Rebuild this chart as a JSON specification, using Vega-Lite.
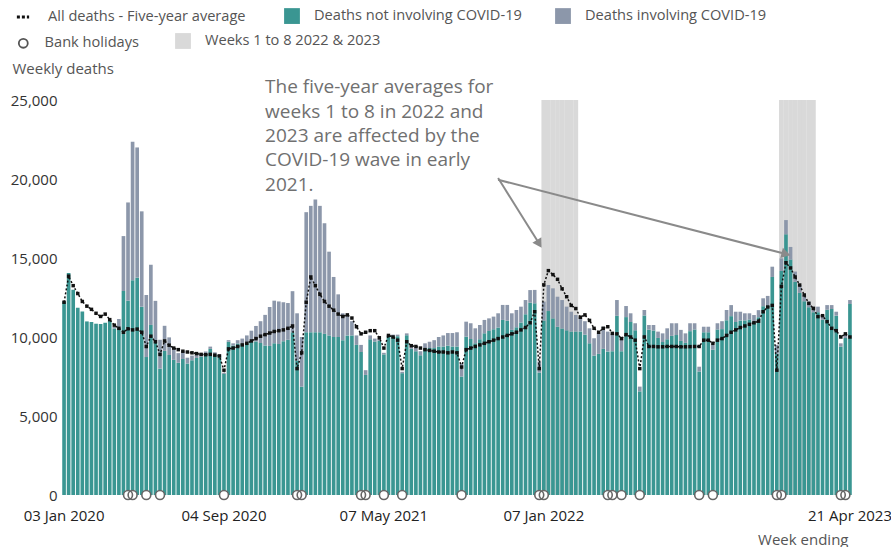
{
  "$schema": "https://vega.github.io/schema/vega-lite/v6.json",
  "width": 790,
  "height": 395,
  "autosize": {"type": "none"},
  "padding": {"left": 62, "top": 100, "right": 39, "bottom": 52},
  "background": "white",
  "config": {
    "view": {"stroke": null},
    "font": "Open Sans",
    "legend": {"labelFont": "Open Sans", "labelFontSize": 14.6, "labelColor": "#555555", "title": null, "labelLimit": 0}
  },
  "datasets": {
    "weekly": [
      {"week":"2020-01-03","noncovid":12254,"covid":0,"avg":12200,"bh":0},
      {"week":"2020-01-10","noncovid":14058,"covid":0,"avg":13850,"bh":0},
      {"week":"2020-01-17","noncovid":12990,"covid":0,"avg":13250,"bh":0},
      {"week":"2020-01-24","noncovid":11856,"covid":0,"avg":12750,"bh":0},
      {"week":"2020-01-31","noncovid":11612,"covid":0,"avg":12250,"bh":0},
      {"week":"2020-02-07","noncovid":10986,"covid":0,"avg":11950,"bh":0},
      {"week":"2020-02-14","noncovid":10944,"covid":0,"avg":11750,"bh":0},
      {"week":"2020-02-21","noncovid":10841,"covid":0,"avg":11500,"bh":0},
      {"week":"2020-02-28","noncovid":10816,"covid":0,"avg":11300,"bh":0},
      {"week":"2020-03-06","noncovid":10895,"covid":0,"avg":11450,"bh":0},
      {"week":"2020-03-13","noncovid":11014,"covid":5,"avg":11100,"bh":0},
      {"week":"2020-03-20","noncovid":10542,"covid":103,"avg":10750,"bh":0},
      {"week":"2020-03-27","noncovid":10602,"covid":539,"avg":10550,"bh":0},
      {"week":"2020-04-03","noncovid":12912,"covid":3475,"avg":10300,"bh":0},
      {"week":"2020-04-10","noncovid":12303,"covid":6213,"avg":10520,"bh":1},
      {"week":"2020-04-17","noncovid":13593,"covid":8758,"avg":10450,"bh":1},
      {"week":"2020-04-24","noncovid":13760,"covid":8237,"avg":10500,"bh":0},
      {"week":"2020-05-01","noncovid":11918,"covid":6035,"avg":10300,"bh":0},
      {"week":"2020-05-08","noncovid":8727,"covid":3930,"avg":9400,"bh":1},
      {"week":"2020-05-15","noncovid":10763,"covid":3810,"avg":10050,"bh":0},
      {"week":"2020-05-22","noncovid":9699,"covid":2589,"avg":9700,"bh":0},
      {"week":"2020-05-29","noncovid":8002,"covid":1822,"avg":8900,"bh":1},
      {"week":"2020-06-05","noncovid":9121,"covid":1588,"avg":9750,"bh":0},
      {"week":"2020-06-12","noncovid":8862,"covid":1114,"avg":9480,"bh":0},
      {"week":"2020-06-19","noncovid":8556,"covid":783,"avg":9300,"bh":0},
      {"week":"2020-06-26","noncovid":8373,"covid":606,"avg":9200,"bh":0},
      {"week":"2020-07-03","noncovid":8608,"covid":532,"avg":9100,"bh":0},
      {"week":"2020-07-10","noncovid":8324,"covid":366,"avg":9050,"bh":0},
      {"week":"2020-07-17","noncovid":8528,"covid":295,"avg":9000,"bh":0},
      {"week":"2020-07-24","noncovid":8674,"covid":217,"avg":8950,"bh":0},
      {"week":"2020-07-31","noncovid":8753,"covid":193,"avg":8900,"bh":0},
      {"week":"2020-08-07","noncovid":8930,"covid":152,"avg":8880,"bh":0},
      {"week":"2020-08-14","noncovid":9253,"covid":139,"avg":8900,"bh":0},
      {"week":"2020-08-21","noncovid":8894,"covid":138,"avg":8850,"bh":0},
      {"week":"2020-08-28","noncovid":8809,"covid":101,"avg":8800,"bh":0},
      {"week":"2020-09-04","noncovid":7661,"covid":78,"avg":7900,"bh":1},
      {"week":"2020-09-11","noncovid":9701,"covid":99,"avg":9250,"bh":0},
      {"week":"2020-09-18","noncovid":9461,"covid":139,"avg":9300,"bh":0},
      {"week":"2020-09-25","noncovid":9585,"covid":215,"avg":9400,"bh":0},
      {"week":"2020-10-02","noncovid":9579,"covid":321,"avg":9500,"bh":0},
      {"week":"2020-10-09","noncovid":9662,"covid":438,"avg":9600,"bh":0},
      {"week":"2020-10-16","noncovid":9730,"covid":670,"avg":9750,"bh":0},
      {"week":"2020-10-23","noncovid":9722,"covid":978,"avg":9900,"bh":0},
      {"week":"2020-10-30","noncovid":9621,"covid":1379,"avg":10050,"bh":0},
      {"week":"2020-11-06","noncovid":9463,"covid":1937,"avg":10150,"bh":0},
      {"week":"2020-11-13","noncovid":9434,"covid":2466,"avg":10250,"bh":0},
      {"week":"2020-11-20","noncovid":9603,"covid":2697,"avg":10350,"bh":0},
      {"week":"2020-11-27","noncovid":9553,"covid":2697,"avg":10400,"bh":0},
      {"week":"2020-12-04","noncovid":9738,"covid":2462,"avg":10450,"bh":0},
      {"week":"2020-12-11","noncovid":9824,"covid":2326,"avg":10550,"bh":0},
      {"week":"2020-12-18","noncovid":10302,"covid":2598,"avg":10700,"bh":0},
      {"week":"2020-12-25","noncovid":8514,"covid":2986,"avg":8000,"bh":1},
      {"week":"2021-01-01","noncovid":6856,"covid":3144,"avg":9000,"bh":1},
      {"week":"2021-01-08","noncovid":10300,"covid":7600,"avg":12200,"bh":0},
      {"week":"2021-01-15","noncovid":10300,"covid":8000,"avg":13800,"bh":0},
      {"week":"2021-01-22","noncovid":10300,"covid":8400,"avg":13250,"bh":0},
      {"week":"2021-01-29","noncovid":10300,"covid":8000,"avg":12700,"bh":0},
      {"week":"2021-02-05","noncovid":10200,"covid":7000,"avg":12250,"bh":0},
      {"week":"2021-02-12","noncovid":10100,"covid":5300,"avg":11950,"bh":0},
      {"week":"2021-02-19","noncovid":10000,"covid":3800,"avg":11700,"bh":0},
      {"week":"2021-02-26","noncovid":10000,"covid":2700,"avg":11450,"bh":0},
      {"week":"2021-03-05","noncovid":9800,"covid":1700,"avg":11300,"bh":0},
      {"week":"2021-03-12","noncovid":10100,"covid":1300,"avg":11400,"bh":0},
      {"week":"2021-03-19","noncovid":10100,"covid":900,"avg":11200,"bh":0},
      {"week":"2021-03-26","noncovid":9500,"covid":600,"avg":10650,"bh":0},
      {"week":"2021-04-02","noncovid":9050,"covid":450,"avg":10200,"bh":1},
      {"week":"2021-04-09","noncovid":7600,"covid":300,"avg":10300,"bh":1},
      {"week":"2021-04-16","noncovid":9850,"covid":250,"avg":10400,"bh":0},
      {"week":"2021-04-23","noncovid":9710,"covid":190,"avg":10400,"bh":0},
      {"week":"2021-04-30","noncovid":9760,"covid":140,"avg":9950,"bh":0},
      {"week":"2021-05-07","noncovid":8900,"covid":100,"avg":9300,"bh":1},
      {"week":"2021-05-14","noncovid":10010,"covid":90,"avg":10100,"bh":0},
      {"week":"2021-05-21","noncovid":10060,"covid":90,"avg":10000,"bh":0},
      {"week":"2021-05-28","noncovid":10050,"covid":100,"avg":9800,"bh":0},
      {"week":"2021-06-04","noncovid":7710,"covid":90,"avg":8000,"bh":1},
      {"week":"2021-06-11","noncovid":10110,"covid":120,"avg":9700,"bh":0},
      {"week":"2021-06-18","noncovid":9250,"covid":150,"avg":9450,"bh":0},
      {"week":"2021-06-25","noncovid":9100,"covid":200,"avg":9400,"bh":0},
      {"week":"2021-07-02","noncovid":8850,"covid":250,"avg":9300,"bh":0},
      {"week":"2021-07-09","noncovid":9300,"covid":300,"avg":9200,"bh":0},
      {"week":"2021-07-16","noncovid":9300,"covid":400,"avg":9150,"bh":0},
      {"week":"2021-07-23","noncovid":9300,"covid":500,"avg":9100,"bh":0},
      {"week":"2021-07-30","noncovid":9400,"covid":600,"avg":9050,"bh":0},
      {"week":"2021-08-06","noncovid":9400,"covid":700,"avg":9050,"bh":0},
      {"week":"2021-08-13","noncovid":9450,"covid":800,"avg":9000,"bh":0},
      {"week":"2021-08-20","noncovid":9400,"covid":850,"avg":9050,"bh":0},
      {"week":"2021-08-27","noncovid":9400,"covid":900,"avg":9000,"bh":0},
      {"week":"2021-09-03","noncovid":7500,"covid":800,"avg":8100,"bh":1},
      {"week":"2021-09-10","noncovid":10020,"covid":950,"avg":9200,"bh":0},
      {"week":"2021-09-17","noncovid":9870,"covid":1000,"avg":9300,"bh":0},
      {"week":"2021-09-24","noncovid":9600,"covid":950,"avg":9400,"bh":0},
      {"week":"2021-10-01","noncovid":9860,"covid":900,"avg":9500,"bh":0},
      {"week":"2021-10-08","noncovid":10230,"covid":850,"avg":9600,"bh":0},
      {"week":"2021-10-15","noncovid":10380,"covid":800,"avg":9700,"bh":0},
      {"week":"2021-10-22","noncovid":10490,"covid":800,"avg":9800,"bh":0},
      {"week":"2021-10-29","noncovid":10600,"covid":900,"avg":9900,"bh":0},
      {"week":"2021-11-05","noncovid":11080,"covid":950,"avg":10000,"bh":0},
      {"week":"2021-11-12","noncovid":11030,"covid":1000,"avg":10100,"bh":0},
      {"week":"2021-11-19","noncovid":10450,"covid":1050,"avg":10200,"bh":0},
      {"week":"2021-11-26","noncovid":10610,"covid":1100,"avg":10300,"bh":0},
      {"week":"2021-12-03","noncovid":10920,"covid":1000,"avg":10450,"bh":0},
      {"week":"2021-12-10","noncovid":11440,"covid":900,"avg":10600,"bh":0},
      {"week":"2021-12-17","noncovid":12170,"covid":800,"avg":10900,"bh":0},
      {"week":"2021-12-24","noncovid":12130,"covid":850,"avg":11600,"bh":0},
      {"week":"2021-12-31","noncovid":7750,"covid":700,"avg":8000,"bh":1},
      {"week":"2022-01-07","noncovid":11040,"covid":1200,"avg":13300,"bh":1},
      {"week":"2022-01-14","noncovid":11640,"covid":1650,"avg":14200,"bh":0},
      {"week":"2022-01-21","noncovid":11180,"covid":1900,"avg":13950,"bh":0},
      {"week":"2022-01-28","noncovid":10650,"covid":1900,"avg":13650,"bh":0},
      {"week":"2022-02-04","noncovid":10540,"covid":1800,"avg":13050,"bh":0},
      {"week":"2022-02-11","noncovid":10420,"covid":1500,"avg":12550,"bh":0},
      {"week":"2022-02-18","noncovid":10350,"covid":1250,"avg":12000,"bh":0},
      {"week":"2022-02-25","noncovid":10350,"covid":1050,"avg":11800,"bh":0},
      {"week":"2022-03-04","noncovid":10350,"covid":900,"avg":11250,"bh":0},
      {"week":"2022-03-11","noncovid":10150,"covid":850,"avg":11400,"bh":0},
      {"week":"2022-03-18","noncovid":9600,"covid":950,"avg":11050,"bh":0},
      {"week":"2022-03-25","noncovid":8820,"covid":1100,"avg":10550,"bh":0},
      {"week":"2022-04-01","noncovid":8930,"covid":1300,"avg":10300,"bh":0},
      {"week":"2022-04-08","noncovid":9250,"covid":1400,"avg":10550,"bh":0},
      {"week":"2022-04-15","noncovid":9090,"covid":1250,"avg":10650,"bh":1},
      {"week":"2022-04-22","noncovid":9100,"covid":1100,"avg":10230,"bh":1},
      {"week":"2022-04-29","noncovid":11340,"covid":1000,"avg":10200,"bh":0},
      {"week":"2022-05-06","noncovid":9100,"covid":800,"avg":9900,"bh":1},
      {"week":"2022-05-13","noncovid":11260,"covid":700,"avg":10150,"bh":0},
      {"week":"2022-05-20","noncovid":10950,"covid":550,"avg":10000,"bh":0},
      {"week":"2022-05-27","noncovid":10420,"covid":450,"avg":9800,"bh":0},
      {"week":"2022-06-03","noncovid":6560,"covid":300,"avg":8000,"bh":1},
      {"week":"2022-06-10","noncovid":11360,"covid":350,"avg":10000,"bh":0},
      {"week":"2022-06-17","noncovid":10460,"covid":300,"avg":9400,"bh":0},
      {"week":"2022-06-24","noncovid":10410,"covid":350,"avg":9400,"bh":0},
      {"week":"2022-07-01","noncovid":9940,"covid":400,"avg":9380,"bh":0},
      {"week":"2022-07-08","noncovid":9680,"covid":550,"avg":9380,"bh":0},
      {"week":"2022-07-15","noncovid":9850,"covid":700,"avg":9400,"bh":0},
      {"week":"2022-07-22","noncovid":10070,"covid":800,"avg":9400,"bh":0},
      {"week":"2022-07-29","noncovid":10120,"covid":750,"avg":9400,"bh":0},
      {"week":"2022-08-05","noncovid":9750,"covid":700,"avg":9380,"bh":0},
      {"week":"2022-08-12","noncovid":9630,"covid":600,"avg":9380,"bh":0},
      {"week":"2022-08-19","noncovid":10370,"covid":500,"avg":9390,"bh":0},
      {"week":"2022-08-26","noncovid":10470,"covid":400,"avg":9400,"bh":0},
      {"week":"2022-09-02","noncovid":7820,"covid":300,"avg":9400,"bh":1},
      {"week":"2022-09-09","noncovid":10300,"covid":350,"avg":9800,"bh":0},
      {"week":"2022-09-16","noncovid":10300,"covid":350,"avg":9800,"bh":0},
      {"week":"2022-09-23","noncovid":9200,"covid":300,"avg":9600,"bh":1},
      {"week":"2022-09-30","noncovid":10470,"covid":400,"avg":9800,"bh":0},
      {"week":"2022-10-07","noncovid":10500,"covid":500,"avg":9900,"bh":0},
      {"week":"2022-10-14","noncovid":11060,"covid":650,"avg":10100,"bh":0},
      {"week":"2022-10-21","noncovid":11320,"covid":700,"avg":10300,"bh":0},
      {"week":"2022-10-28","noncovid":10950,"covid":650,"avg":10450,"bh":0},
      {"week":"2022-11-04","noncovid":11050,"covid":550,"avg":10600,"bh":0},
      {"week":"2022-11-11","noncovid":11050,"covid":450,"avg":10700,"bh":0},
      {"week":"2022-11-18","noncovid":11100,"covid":400,"avg":10800,"bh":0},
      {"week":"2022-11-25","noncovid":10990,"covid":400,"avg":10900,"bh":0},
      {"week":"2022-12-02","noncovid":11250,"covid":450,"avg":11000,"bh":0},
      {"week":"2022-12-09","noncovid":11950,"covid":500,"avg":11600,"bh":0},
      {"week":"2022-12-16","noncovid":12000,"covid":600,"avg":11900,"bh":0},
      {"week":"2022-12-23","noncovid":13800,"covid":650,"avg":12000,"bh":0},
      {"week":"2022-12-30","noncovid":8950,"covid":550,"avg":7900,"bh":1},
      {"week":"2023-01-06","noncovid":14180,"covid":800,"avg":13200,"bh":1},
      {"week":"2023-01-13","noncovid":16500,"covid":900,"avg":14700,"bh":0},
      {"week":"2023-01-20","noncovid":14900,"covid":800,"avg":14370,"bh":0},
      {"week":"2023-01-27","noncovid":13490,"covid":650,"avg":13800,"bh":0},
      {"week":"2023-02-03","noncovid":12790,"covid":500,"avg":13290,"bh":0},
      {"week":"2023-02-10","noncovid":12260,"covid":400,"avg":12660,"bh":0},
      {"week":"2023-02-17","noncovid":11890,"covid":350,"avg":12130,"bh":0},
      {"week":"2023-02-24","noncovid":11570,"covid":350,"avg":11810,"bh":0},
      {"week":"2023-03-03","noncovid":11570,"covid":350,"avg":11290,"bh":0},
      {"week":"2023-03-10","noncovid":11090,"covid":300,"avg":11350,"bh":0},
      {"week":"2023-03-17","noncovid":11720,"covid":300,"avg":10970,"bh":0},
      {"week":"2023-03-24","noncovid":11770,"covid":250,"avg":10550,"bh":0},
      {"week":"2023-03-31","noncovid":11350,"covid":250,"avg":10400,"bh":0},
      {"week":"2023-04-07","noncovid":9400,"covid":200,"avg":10000,"bh":1},
      {"week":"2023-04-14","noncovid":9930,"covid":200,"avg":10200,"bh":1},
      {"week":"2023-04-21","noncovid":12090,"covid":250,"avg":10000,"bh":0}
    ]
  },
  "data": {"name": "weekly"},
  "layer": [
    {
      "transform": [{"filter": {"field": "week", "oneOf": ["2022-01-07","2022-01-14","2022-01-21","2022-01-28","2022-02-04","2022-02-11","2022-02-18","2022-02-25","2023-01-06","2023-01-13","2023-01-20","2023-01-27","2023-02-03","2023-02-10","2023-02-17","2023-02-24"]}}],
      "mark": {"type": "bar", "width": {"band": 1.3}},
      "encoding": {
        "x": {"field": "week", "type": "ordinal", "title": "Week ending"},
        "y": {"datum": 25000, "type": "quantitative"},
        "fill": {"datum": "Weeks 1 to 8 2022 & 2023", "type": "nominal", "scale": {"range": ["#d9d9d9"]},
          "legend": {"orient": "none", "legendX": 113, "legendY": -67, "symbolType": "square", "symbolSize": 250, "symbolStrokeWidth": 0, "labelOffset": 14}}
      }
    },
    {
      "transform": [{"fold": ["noncovid", "covid"], "as": ["type", "deaths"]}],
      "mark": {"type": "bar"},
      "encoding": {
        "x": {"field": "week", "type": "ordinal", "title": "Week ending",
          "scale": {"paddingInner": 0.2, "paddingOuter": 0.05},
          "axis": {
            "values": ["2020-01-03","2020-09-04","2021-05-07","2022-01-07","2023-04-21"],
            "labelExpr": "utcFormat(toDate(datum.value), '%d %b %Y')",
            "labelAngle": 0, "labelAlign": "center", "domain": false, "ticks": false, "grid": false,
            "labelPadding": 20, "labelFontSize": 15, "labelColor": "#222222",
            "labelOverlap": false, "labelBound": false, "labelFlush": false,
            "titleAnchor": "end", "titleAlign": "right", "titleX": 786, "titleY": 37,
            "titleFontSize": 15, "titleFontWeight": "normal", "titleColor": "#555555"
          }
        },
        "y": {"field": "deaths", "type": "quantitative", "stack": "zero", "title": "Weekly deaths",
          "scale": {"domain": [0, 25000], "nice": false},
          "axis": {
            "values": [0, 5000, 10000, 15000, 20000, 25000],
            "labelExpr": "format(datum.value, ',')",
            "domain": false, "ticks": false, "labelPadding": 5,
            "labelFontSize": 15, "labelColor": "#333333",
            "gridColor": "#cfcfcf", "gridDash": [6, 4],
            "titleAngle": 0, "titleX": -50, "titleY": -32, "titleAlign": "left", "titleBaseline": "middle",
            "titleFontSize": 15, "titleFontWeight": "normal", "titleColor": "#555555"
          }
        },
        "color": {"field": "type", "type": "nominal",
          "scale": {"domain": ["noncovid", "covid"], "range": ["#3a9692", "#8c97aa"]},
          "legend": {"orient": "none", "legendX": 222, "legendY": -92, "direction": "horizontal",
            "symbolType": "square", "symbolSize": 250, "symbolStrokeWidth": 0, "labelOffset": 14, "columnPadding": 33,
            "labelExpr": "datum.value == 'covid' ? 'Deaths involving COVID-19' : 'Deaths not involving COVID-19'"}
        },
        "order": {"field": "type", "sort": "descending"}
      }
    },
    {
      "mark": {"type": "line", "strokeWidth": 1.5, "strokeDash": [2, 2]},
      "encoding": {
        "x": {"field": "week", "type": "ordinal", "title": "Week ending"},
        "y": {"field": "avg", "type": "quantitative", "title": "Weekly deaths"},
        "stroke": {"datum": "All deaths - Five-year average", "type": "nominal", "scale": {"range": ["#111111"]},
          "legend": {"orient": "none", "legendX": -47, "legendY": -91, "symbolType": "stroke", "symbolDash": [3, 2], "symbolStrokeWidth": 3, "symbolSize": 150, "labelOffset": 17}}
      }
    },
    {
      "mark": {"type": "point", "shape": "square", "filled": true, "color": "#111111", "size": 12, "opacity": 1},
      "encoding": {
        "x": {"field": "week", "type": "ordinal", "title": "Week ending"},
        "y": {"field": "avg", "type": "quantitative", "title": "Weekly deaths"}
      }
    },
    {
      "transform": [{"filter": "datum.bh == 1"}],
      "mark": {"type": "point", "shape": "circle", "filled": true, "color": "white", "size": 80, "opacity": 1},
      "encoding": {
        "x": {"field": "week", "type": "ordinal", "title": "Week ending"},
        "y": {"datum": 0, "type": "quantitative"}
      }
    },
    {
      "transform": [{"filter": "datum.bh == 1"}],
      "mark": {"type": "point", "filled": false, "color": "#666666", "strokeWidth": 1.6, "size": 80, "opacity": 1},
      "encoding": {
        "x": {"field": "week", "type": "ordinal", "title": "Week ending"},
        "y": {"datum": 0, "type": "quantitative"},
        "shape": {"datum": "Bank holidays", "type": "nominal", "scale": {"range": ["circle"]},
          "legend": {"orient": "none", "legendX": -46, "legendY": -64, "symbolStrokeColor": "#555555", "symbolStrokeWidth": 1.8, "symbolSize": 80, "labelOffset": 14}}
      }
    },
    {
      "data": {"values": [{}]},
      "mark": {"type": "rule", "color": "#8a8a8a", "strokeWidth": 2},
      "encoding": {
        "x": {"datum": "2021-10-29", "type": "ordinal"},
        "x2": {"datum": "2021-12-31"},
        "y": {"datum": 20060, "type": "quantitative"},
        "y2": {"datum": 15900}
      }
    },
    {
      "data": {"values": [{}]},
      "mark": {"type": "rule", "color": "#8a8a8a", "strokeWidth": 2},
      "encoding": {
        "x": {"datum": "2021-10-29", "type": "ordinal"},
        "x2": {"datum": "2023-01-13"},
        "y": {"datum": 19950, "type": "quantitative"},
        "y2": {"datum": 15250}
      }
    },
    {
      "data": {"values": [{}]},
      "mark": {"type": "point", "shape": "triangle-up", "filled": true, "color": "#8a8a8a", "size": 110, "angle": 148.5, "opacity": 1},
      "encoding": {
        "x": {"datum": "2021-12-31", "type": "ordinal"},
        "y": {"datum": 15900, "type": "quantitative"}
      }
    },
    {
      "data": {"values": [{}]},
      "mark": {"type": "point", "shape": "triangle-up", "filled": true, "color": "#8a8a8a", "size": 110, "angle": 104.5, "opacity": 1},
      "encoding": {
        "x": {"datum": "2023-01-13", "type": "ordinal"},
        "y": {"datum": 15250, "type": "quantitative"}
      }
    },
    {
      "data": {"values": [{}]},
      "mark": {"type": "text", "align": "left", "baseline": "top", "fontSize": 19, "lineHeight": 24.4, "color": "#707070",
        "text": ["The five-year averages for", "weeks 1 to 8 in 2022 and", "2023 are affected by the", "COVID-19 wave in early", "2021."]},
      "encoding": {
        "x": {"datum": "2020-11-06", "type": "ordinal"},
        "y": {"datum": 26380, "type": "quantitative"}
      }
    }
  ]
}
